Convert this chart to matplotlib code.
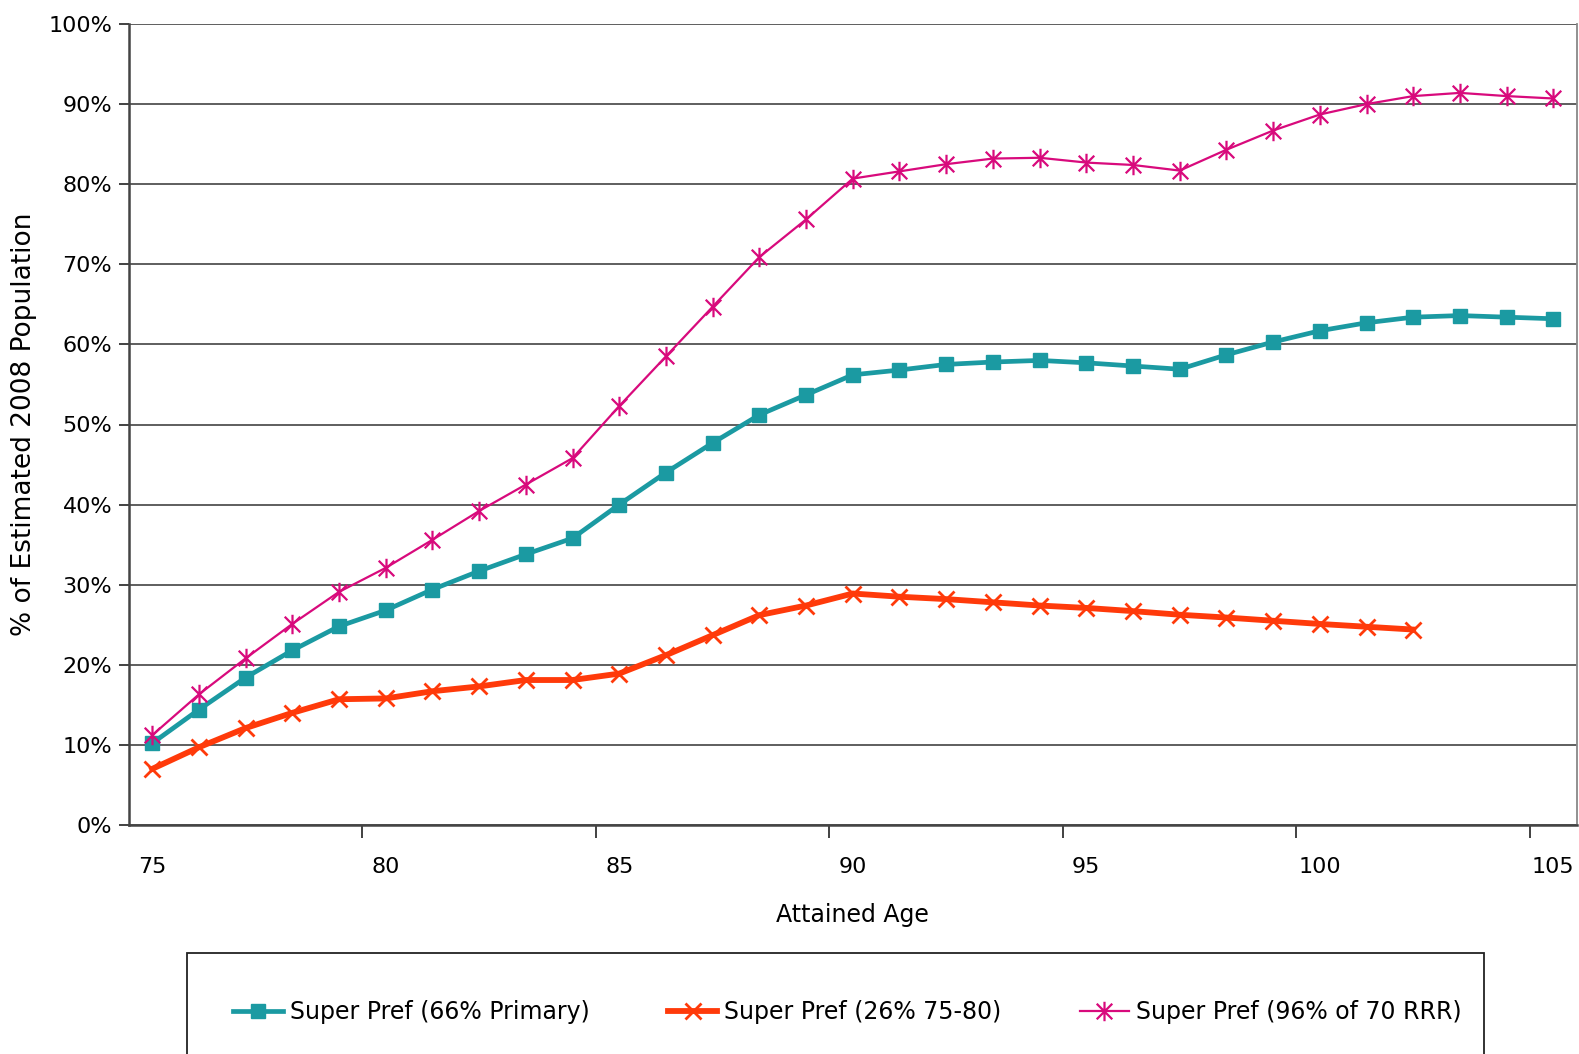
import numpy as np
import matplotlib
matplotlib.use("Agg")
import matplotlib.pyplot as plt
from matplotlib.path import Path
from matplotlib.patches import Rectangle

plt.rcParams['font.family'] = ['DejaVu Sans']

# Attained ages and series values (%)
ages = list(range(75, 106))
tick_ages = [75, 80, 85, 90, 95, 100, 105]

primary_66 = [10.2, 14.4, 18.4, 21.8, 24.8, 26.8, 29.4, 31.7, 33.8, 35.8,
              40.0, 44.0, 47.7, 51.2, 53.7, 56.2, 56.8, 57.5, 57.8, 58.0,
              57.7, 57.3, 56.9, 58.7, 60.3, 61.7, 62.7, 63.4, 63.6, 63.4, 63.2]
pct26_75_80 = [7.0, 9.7, 12.1, 14.0, 15.7, 15.8, 16.7, 17.3, 18.1, 18.1,
               18.9, 21.2, 23.7, 26.2, 27.4, 28.9, 28.5, 28.2, 27.8, 27.4,
               27.1, 26.7, 26.25, 25.9, 25.5, 25.1, 24.75, 24.4]
pct96_70rrr = [11.2, 16.3, 20.8, 25.1, 29.1, 32.1, 35.6, 39.2, 42.5, 45.8,
               52.3, 58.5, 64.7, 70.9, 75.6, 80.7, 81.6, 82.5, 83.2, 83.3,
               82.7, 82.4, 81.7, 84.3, 86.7, 88.7, 90.0, 91.0, 91.4, 91.0, 90.7]

labels = ['Super Pref (66% Primary)', 'Super Pref (26% 75-80)', 'Super Pref (96% of 70 RRR)']
colors = ['#1B9AA2', '#FF3A0A', '#D80A7C']

# Excel-style star marker: an X with a vertical stroke
star = Path([(-0.8, -0.8), (0.8, 0.8), (-0.8, 0.8), (0.8, -0.8), (0, -1.0), (0, 1.0)],
            [Path.MOVETO, Path.LINETO, Path.MOVETO, Path.LINETO, Path.MOVETO, Path.LINETO])

x = np.arange(len(ages))
orange = np.full(len(ages), np.nan)
orange[:len(pct26_75_80)] = pct26_75_80

fig = plt.figure(figsize=(15.79, 10.54), dpi=100)
ax = fig.add_axes([128.8 / 1579, 1 - 825 / 1054, (1576.7 - 128.8) / 1579, (825 - 24) / 1054])

ax.plot(x, primary_66, color=colors[0], lw=3.4, marker='s', ms=10,
        mec=colors[0], mfc=colors[0], label=labels[0], zorder=3)
ax.plot(x, orange, color=colors[1], lw=4.2, marker='x', ms=12, mew=2.0,
        mec=colors[1], label=labels[1], zorder=4)
ax.plot(x, pct96_70rrr, color=colors[2], lw=1.6, marker=star, ms=14, mew=1.6,
        mec=colors[2], mfc='none', label=labels[2], zorder=5)

ax.set_xlim(-0.5, len(ages) - 0.5)
ax.set_ylim(0, 100)

# tick marks between categories, labels on categories
ax.set_xticks(np.arange(4.5, len(ages), 5))
ax.set_xticklabels([])
ax.set_xticks([ages.index(a) for a in tick_ages], minor=True)
ax.set_xticklabels([str(a) for a in tick_ages], minor=True)
ax.tick_params(axis='x', which='major', length=9, width=1.3, color='#333333', direction='out')
ax.tick_params(axis='x', which='minor', length=0, pad=23, labelsize=16)

ax.set_yticks(np.arange(0, 101, 10))
ax.set_yticklabels([f'{v}%' for v in range(0, 101, 10)])
ax.tick_params(axis='y', length=7, width=1.3, color='#333333', labelsize=16, pad=5)

ax.grid(True, axis='y', color='#333333', lw=1.1)
ax.set_axisbelow(True)

ax.spines['top'].set_visible(False)
ax.spines['left'].set_color('#444444')
ax.spines['left'].set_linewidth(1.8)
ax.spines['bottom'].set_color('#444444')
ax.spines['bottom'].set_linewidth(1.8)
ax.spines['right'].set_color('#888888')
ax.spines['right'].set_linewidth(1.3)

ax.set_xlabel('Attained Age', fontsize=17, labelpad=19)
ax.set_ylabel('% of Estimated 2008 Population', fontsize=19, labelpad=8)

# legend box (runs past the bottom edge as in the original)
fig.patches.append(Rectangle((187 / 1579, -0.05), (1484 - 187) / 1579, 0.05 + 1 - 953 / 1054,
                             transform=fig.transFigure, fill=False, ec='#222222', lw=1.3))
fig.legend(loc='center left', bbox_to_anchor=(224 / 1579, 1 - 1012 / 1054), ncol=3,
           frameon=False, fontsize=17, handlelength=2.1, handletextpad=0.3,
           columnspacing=3.3, borderaxespad=0)

fig.savefig('out.png', dpi=100)
